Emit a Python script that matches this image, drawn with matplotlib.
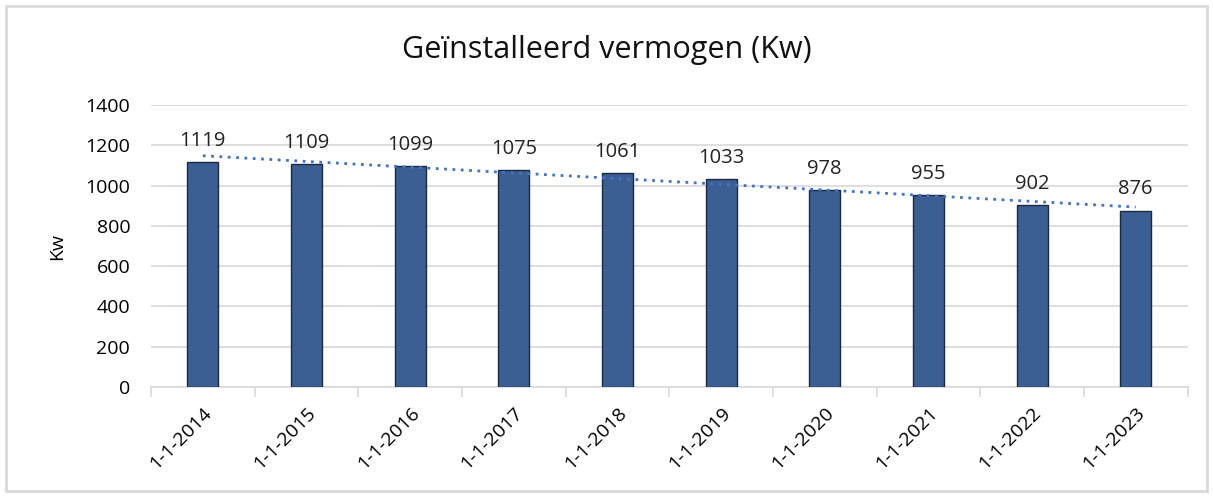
import matplotlib.pyplot as plt
from matplotlib.patches import Rectangle
import numpy as np

plt.rcParams['font.family'] = ['Open Sans', 'DejaVu Sans']

dates = ["1-1-2014", "1-1-2015", "1-1-2016", "1-1-2017", "1-1-2018",
         "1-1-2019", "1-1-2020", "1-1-2021", "1-1-2022", "1-1-2023"]
vermogen = [1119, 1109, 1099, 1075, 1061, 1033, 978, 955, 902, 876]

fig = plt.figure(figsize=(12.13, 4.97), dpi=100)
ax = fig.add_axes([0.1245, 0.2213, 0.8545, 0.5674])

x = np.arange(len(dates))
ax.bar(x, vermogen, width=0.3, color="#3B5E93", edgecolor="#1a2a40", linewidth=1.0, zorder=3)

for xi, v in zip(x, vermogen):
    ax.text(xi, v + 55, str(v), ha="center", va="bottom", fontsize=14.5, color="#222222")

# lineaire trendlijn
a, b = np.polyfit(x, vermogen, 1)
ax.plot(x, a * x + b, linestyle=(0, (1, 2)), color="#4472C4", linewidth=2, zorder=4)

ax.set_xlim(-0.5, len(dates) - 0.5)
ax.set_ylim(0, 1400)
ax.set_yticks(range(0, 1401, 200))
ax.yaxis.grid(True, color="#D9D9D9", linewidth=1.2, zorder=0)
ax.set_axisbelow(True)

ax.set_xticks(x)
ax.set_xticklabels(dates, rotation=45, ha="right", rotation_mode="anchor", fontsize=14)
ax.set_xticks(np.arange(-0.5, len(dates)), minor=True)
ax.tick_params(axis="x", which="major", length=0, pad=12)
ax.tick_params(axis="x", which="minor", length=7, color="#D9D9D9", width=1.2)
ax.tick_params(axis="y", length=0, labelsize=14, pad=15)

for s in ["top", "right", "left"]:
    ax.spines[s].set_visible(False)
ax.spines["bottom"].set_color("#D9D9D9")
ax.spines["bottom"].set_linewidth(1.2)

ax.set_ylabel("Kw", fontsize=14, labelpad=14)
fig.text(0.5, 0.9, "Geïnstalleerd vermogen (Kw)", ha="center", va="center", fontsize=22, color="#111111")

fig.patches.append(Rectangle((0.005, 0.012), 0.99, 0.976, transform=fig.transFigure,
                             fill=False, edgecolor="#D9D9D9", linewidth=2))

fig.savefig("out.png", dpi=100)
